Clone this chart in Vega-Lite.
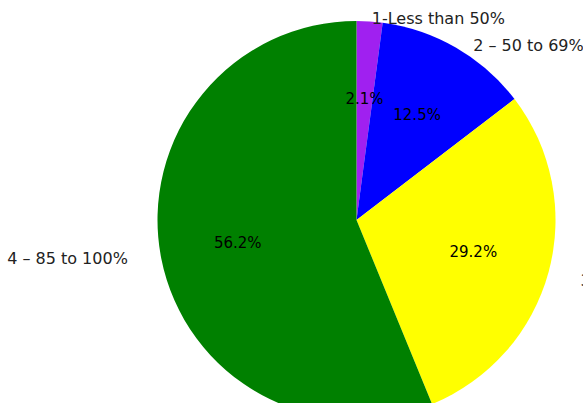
{
  "$schema": "https://vega.github.io/schema/vega-lite/v6.json",
  "autosize": "none",
  "width": 453,
  "height": 366,
  "padding": {"left": 130, "top": 37, "right": 0, "bottom": 0},
  "background": "white",
  "view": {"stroke": null},
  "data": {"values": [
    {"cat": "1-Less than 50%", "pct": 2.1, "label": "2.1%"},
    {"cat": "2 – 50 to 69%", "pct": 12.5, "label": "12.5%"},
    {"cat": "3 – 70 to 84%", "pct": 29.2, "label": "29.2%"},
    {"cat": "4 – 85 to 100%", "pct": 56.2, "label": "56.2%"}
  ]},
  "encoding": {
    "theta": {"field": "pct", "type": "quantitative", "stack": true},
    "order": {"field": "cat", "type": "nominal", "sort": "ascending"}
  },
  "layer": [
    {
      "mark": {"type": "arc", "outerRadius": 199, "stroke": null},
      "encoding": {
        "color": {"field": "cat", "type": "nominal", "legend": null,
          "scale": {"domain": ["1-Less than 50%", "2 – 50 to 69%", "3 – 70 to 84%", "4 – 85 to 100%"],
                    "range": ["#a020f0", "#0000ff", "#ffff00", "#008000"]}}
      }
    },
    {
      "mark": {"type": "text", "font": "DejaVu Sans", "fontSize": 15, "color": "black", "baseline": "middle", "align": "center"},
      "encoding": {"radius": {"value": 121}, "text": {"field": "label"}}
    },
    {
      "mark": {"type": "text", "font": "DejaVu Sans", "fontSize": 16, "color": "#222", "baseline": "middle", "align": "left", "dx": 2},
      "encoding": {"radius": {"value": 201},
        "text": {"condition": {"test": "datum.cat !== '1-Less than 50%'", "value": ""}, "field": "cat"}}
    },
    {
      "mark": {"type": "text", "font": "DejaVu Sans", "fontSize": 16, "color": "#222", "baseline": "middle", "align": "left", "dx": 16},
      "encoding": {"radius": {"value": 201},
        "text": {"condition": {"test": "datum.cat !== '2 – 50 to 69%'", "value": ""}, "field": "cat"}}
    },
    {
      "mark": {"type": "text", "font": "DejaVu Sans", "fontSize": 16, "color": "#222", "baseline": "middle", "align": "left"},
      "encoding": {"radius": {"value": 232},
        "text": {"condition": {"test": "datum.cat !== '3 – 70 to 84%'", "value": ""}, "field": "cat"}}
    },
    {
      "mark": {"type": "text", "font": "DejaVu Sans", "fontSize": 16, "color": "#222", "baseline": "middle", "align": "right", "dx": -3, "dy": -6},
      "encoding": {"radius": {"value": 230},
        "text": {"condition": {"test": "datum.cat !== '4 – 85 to 100%'", "value": ""}, "field": "cat"}}
    }
  ]
}
